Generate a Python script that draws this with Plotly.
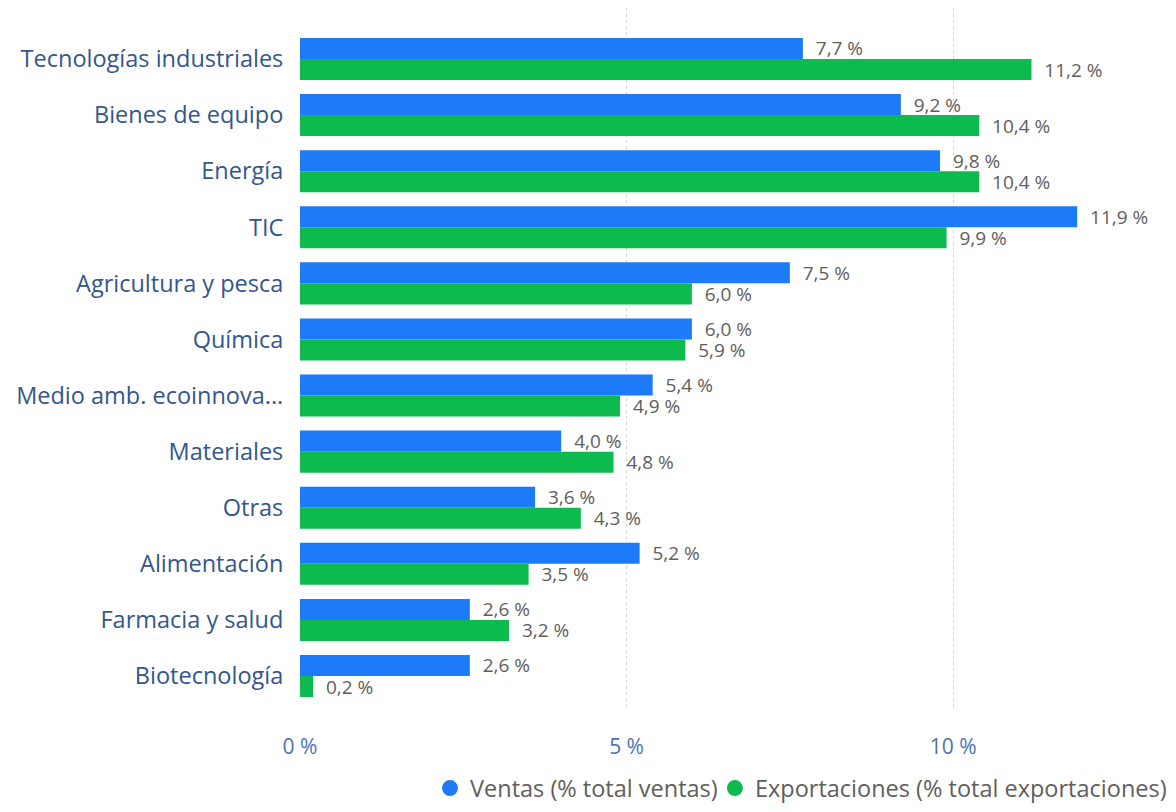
import plotly.graph_objects as go

categories = ["Tecnologías industriales", "Bienes de equipo", "Energía", "TIC",
              "Agricultura y pesca", "Química", "Medio amb. ecoinnova...", "Materiales",
              "Otras", "Alimentación", "Farmacia y salud", "Biotecnología"]
ventas = [7.7, 9.2, 9.8, 11.9, 7.5, 6.0, 5.4, 4.0, 3.6, 5.2, 2.6, 2.6]
exportaciones = [11.2, 10.4, 10.4, 9.9, 6.0, 5.9, 4.9, 4.8, 4.3, 3.5, 3.2, 0.2]
series_names = ["Ventas (% total ventas)", "Exportaciones (% total exportaciones)"]
tick_values = [0, 5, 10]
tick_labels = [f"{v} %" for v in tick_values]

BLUE = "#1E7BF7"
GREEN = "#0DBA4D"
FONT = "Open Sans"

fig = go.Figure()
for name, vals, col, leg in [(series_names[0], ventas, BLUE, "legend"),
                             (series_names[1], exportaciones, GREEN, "legend2")]:
    fig.add_trace(go.Bar(
        y=categories, x=vals, orientation="h", name=name,
        marker=dict(color=col, line=dict(width=0)),
        texttemplate="  %{x:.1f} %", textposition="outside", constraintext="none",
        textfont=dict(family=FONT, size=19, color="#605E5C"),
        cliponaxis=False, showlegend=False,
    ))
    fig.add_trace(go.Scatter(
        x=[None], y=[None], mode="markers", name=name, legend=leg,
        marker=dict(color=col, size=16, symbol="circle"),
    ))

legend_common = dict(orientation="h", xanchor="left", yref="container", y=0.039,
                     yanchor="middle", font=dict(family=FONT, size=23.5, color="#605E5C"),
                     itemwidth=30, bgcolor="rgba(0,0,0,0)")

fig.update_layout(
    width=1176, height=812,
    paper_bgcolor="white", plot_bgcolor="white",
    separators=", ",
    barmode="group", bargap=0.25, bargroupgap=0,
    margin=dict(l=292, r=16, t=0, b=110),
    font=dict(family=FONT, size=18, color="#605E5C"),
    xaxis=dict(range=[0, 13.29], tickmode="array", tickvals=tick_values, ticktext=tick_labels,
               showgrid=True, gridcolor="#D6D6D6", griddash="dot", gridwidth=1,
               zeroline=False, showline=False, automargin=False,
               tickfont=dict(family=FONT, size=21, color="#4A72B8"),
               ticks="outside", ticklen=18, tickcolor="rgba(0,0,0,0)"),
    yaxis=dict(type="category", range=[11.606, -0.909], showgrid=False,
               zeroline=False, showline=False, automargin=False,
               tickfont=dict(family=FONT, size=23.5, color="#34568B"),
               ticks="outside", ticklen=11, tickcolor="rgba(0,0,0,0)"),
    legend=dict(x=0.1498, **legend_common),
    legend2=dict(x=0.478, **legend_common),
)

fig.write_html("out.html")
